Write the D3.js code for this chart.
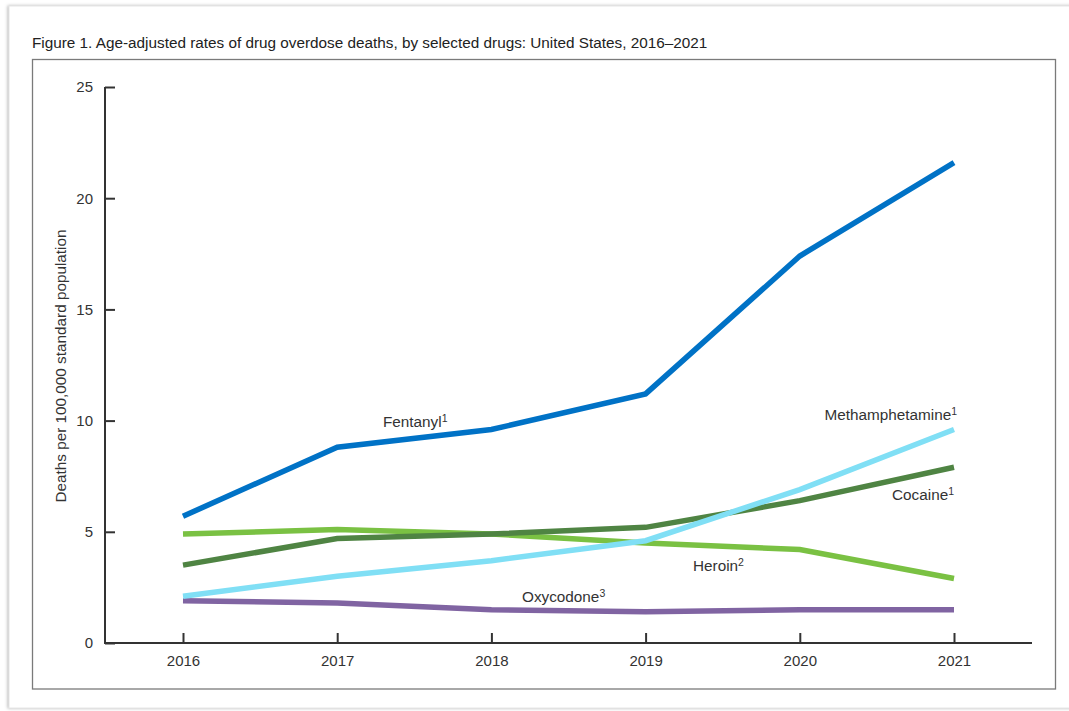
<!DOCTYPE html>
<html>
<head>
<meta charset="utf-8">
<script src="https://cdn.jsdelivr.net/npm/d3@7"></script>
<style>
  html, body { margin: 0; padding: 0; background: #fff; }
  svg { display: block; font-family: "Liberation Sans", Arial, sans-serif; }
</style>
</head>
<body>
<svg id="chart" width="1069" height="711"></svg>
<script>
const years = [2016, 2017, 2018, 2019, 2020, 2021];
const fentanyl = [5.7, 8.8, 9.6, 11.2, 17.4, 21.6];
const methamphetamine = [2.1, 3.0, 3.7, 4.6, 6.9, 9.6];
const cocaine = [3.5, 4.7, 4.9, 5.2, 6.4, 7.9];
const heroin = [4.9, 5.1, 4.9, 4.5, 4.2, 2.9];
const oxycodone = [1.9, 1.8, 1.5, 1.4, 1.5, 1.5];
const yTicks = [0, 5, 10, 15, 20, 25];
const title = "Figure 1. Age-adjusted rates of drug overdose deaths, by selected drugs: United States, 2016–2021";
const yTitle = "Deaths per 100,000 standard population";

const series = [
  { name: "Heroin", sup: "2", values: heroin, color: "#7ac143" },
  { name: "Oxycodone", sup: "3", values: oxycodone, color: "#8064a2" },
  { name: "Cocaine", sup: "1", values: cocaine, color: "#4f8443" },
  { name: "Methamphetamine", sup: "1", values: methamphetamine, color: "#80dff5" },
  { name: "Fentanyl", sup: "1", values: fentanyl, color: "#0072c6" }
];

const svg = d3.select("#chart");
const FS = 15.3;

// outer card with shadow
const defs = svg.append("defs");
const f = defs.append("filter").attr("id", "sh").attr("x", "-5%").attr("y", "-5%").attr("width", "110%").attr("height", "110%");
f.append("feDropShadow").attr("dx", -1).attr("dy", 0).attr("stdDeviation", 1.5).attr("flood-color", "#999").attr("flood-opacity", 0.7);
svg.append("rect").attr("x", 9).attr("y", 6).attr("width", 1075).attr("height", 702)
  .attr("fill", "#fff").attr("stroke", "#e6e6e6").attr("stroke-width", 1).attr("filter", "url(#sh)");

// title
svg.append("text").attr("x", 32).attr("y", 48).attr("font-size", FS).attr("fill", "#222").text(title);

// inner frame
svg.append("rect").attr("x", 32.5).attr("y", 59.5).attr("width", 1023).attr("height", 629.5)
  .attr("fill", "none").attr("stroke", "#7a7a7a").attr("stroke-width", 1.3);

const x = d3.scaleLinear().domain([2016, 2021]).range([183, 954]);
const y = d3.scaleLinear().domain([0, 25]).range([643, 87]);

// y axis
const yAxis = d3.axisLeft(y).tickValues(yTicks).tickSize(-10).tickPadding(12).tickFormat(d3.format("d"));
const gy = svg.append("g").attr("transform", "translate(105,0)").call(yAxis);
gy.select(".domain").attr("stroke", "#333").attr("stroke-width", 2).attr("d", `M0,${y(25)}V${y(0)}`);
gy.selectAll(".tick line").attr("stroke", "#333").attr("stroke-width", 2);
gy.selectAll(".tick text").attr("font-size", 15).attr("fill", "#333").attr("font-family", "Liberation Sans, Arial, sans-serif");

// x axis
const xAxis = d3.axisBottom(x).tickValues(years).tickSize(-10).tickPadding(12).tickFormat(d3.format("d"));
const gx = svg.append("g").attr("transform", `translate(0,${y(0)})`).call(xAxis);
gx.select(".domain").attr("stroke", "#333").attr("stroke-width", 2).attr("d", "M104,0H1032");
gx.selectAll(".tick line").attr("stroke", "#333").attr("stroke-width", 2);
gx.selectAll(".tick text").attr("font-size", 15).attr("fill", "#333").attr("font-family", "Liberation Sans, Arial, sans-serif");

// y title
svg.append("text").attr("transform", `translate(66,366) rotate(-90)`)
  .attr("text-anchor", "middle").attr("font-size", FS).attr("fill", "#333").text(yTitle);

// lines
const line = d3.line().x((d, i) => x(years[i])).y(d => y(d));
svg.append("g").selectAll("path").data(series).join("path")
  .attr("d", d => line(d.values))
  .attr("fill", "none").attr("stroke", d => d.color).attr("stroke-width", 5.5)
  .attr("stroke-linejoin", "miter");

// labels
const labels = [
  { name: "Fentanyl", sup: "1", x: 383, y: 427, anchor: "start" },
  { name: "Methamphetamine", sup: "1", x: 957, y: 420, anchor: "end" },
  { name: "Cocaine", sup: "1", x: 954, y: 500, anchor: "end" },
  { name: "Heroin", sup: "2", x: 693, y: 571, anchor: "start" },
  { name: "Oxycodone", sup: "3", x: 522, y: 602, anchor: "start" }
];
labels.forEach(l => {
  const t = svg.append("text").attr("x", l.x).attr("y", l.y).attr("font-size", FS).attr("fill", "#333")
    .attr("text-anchor", l.anchor);
  t.append("tspan").text(l.name);
  t.append("tspan").attr("font-size", 10.5).attr("dy", -5.5).text(l.sup);
});
</script>
</body>
</html>
